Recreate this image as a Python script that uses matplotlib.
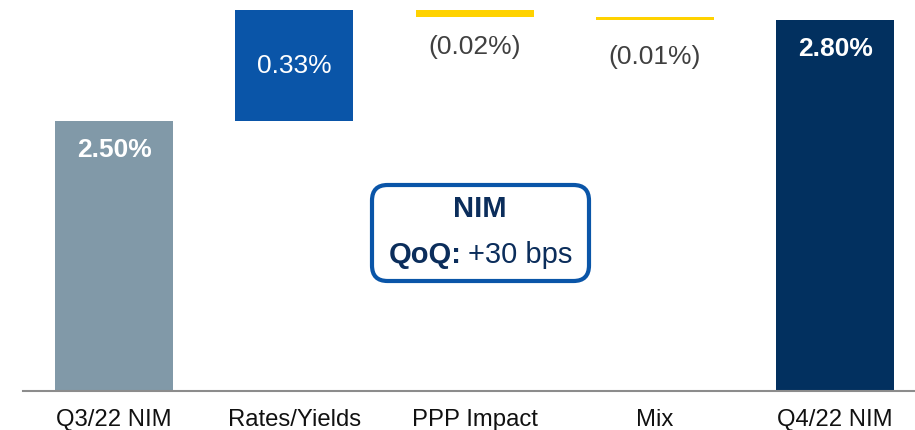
import matplotlib.pyplot as plt
from matplotlib.patches import FancyBboxPatch

plt.rcParams['font.family'] = ['Liberation Sans', 'DejaVu Sans']

# NIM bridge, Q3/22 -> Q4/22
categories = ['Q3/22 NIM', 'Rates/Yields', 'PPP Impact', 'Mix', 'Q4/22 NIM']
changes = [2.50, 0.33, -0.02, -0.01, 2.80]
is_total = [True, False, False, False, True]
value_labels = ['2.50%', '0.33%', '(0.02%)', '(0.01%)', '2.80%']
colors = ['#8199A8', '#0A55A8', '#FFD200', '#FFD200', '#02305F']


def main():
    fig = plt.figure(figsize=(9.15, 4.31), dpi=100)
    ax = fig.add_axes([23 / 915, 39 / 431, 892 / 915, 392 / 431])

    # work out floating bar bottoms/heights
    bottoms, heights = [], []
    running = 0.0
    for val, tot in zip(changes, is_total):
        if tot:
            bottoms.append(0.0)
            heights.append(val)
            running = val
        else:
            if val >= 0:
                bottoms.append(running)
                heights.append(val)
            else:
                bottoms.append(running + val)
                heights.append(-val)
            running += val

    x = list(range(len(categories)))
    ax.bar(x, heights, bottom=bottoms, width=0.655, color=colors, zorder=2)

    # value labels
    for i, (b, h, lab, tot) in enumerate(zip(bottoms, heights, value_labels, is_total)):
        top = b + h
        if tot:
            ax.annotate(lab, (i, top), xytext=(0, -28), textcoords='offset pixels',
                        ha='center', va='center', color='white', fontsize=19,
                        fontweight='bold')
        elif changes[i] > 0:
            ax.text(i, b + h / 2, lab, ha='center', va='center', color='white',
                    fontsize=19)
        else:
            off = -29 if i == 2 else -36
            ax.annotate(lab, (i, b), xytext=(0, off), textcoords='offset pixels',
                        ha='center', va='center', color='#404040', fontsize=19)

    ax.set_xlim(-0.505, 4.443)
    ax.set_ylim(1.70, 2.862)
    ax.set_xticks(x)
    ax.set_xticklabels(categories, fontsize=17.2, color='#111111')
    ax.tick_params(axis='x', length=0, pad=12.5)
    ax.set_yticks([])
    for side in ['top', 'right', 'left']:
        ax.spines[side].set_visible(False)
    ax.spines['bottom'].set_color('#8C8C8C')
    ax.spines['bottom'].set_linewidth(1.5)

    # NIM callout box
    box = FancyBboxPatch((372 / 915, (431 - 282) / 431), 217 / 915, 96 / 431,
                         boxstyle='round,pad=0,rounding_size=0.017',
                         mutation_aspect=915 / 431,
                         transform=fig.transFigure, facecolor='white',
                         edgecolor='#0A55A8', linewidth=3, zorder=5)
    fig.patches.append(box)
    fig.text(480 / 915, 1 - 209 / 431, 'NIM', ha='center', va='center',
             fontsize=21, fontweight='bold', color='#0B2D5B', zorder=6)
    fig.text(462 / 915, 1 - 255 / 431, 'QoQ:', ha='right', va='center',
             fontsize=21, fontweight='bold', color='#0B2D5B', zorder=6)
    fig.text(468 / 915, 1 - 255 / 431, '+30 bps', ha='left', va='center',
             fontsize=21, color='#0B2D5B', zorder=6)

    fig.savefig('out.png', dpi=100)


if __name__ == "__main__":
    main()
